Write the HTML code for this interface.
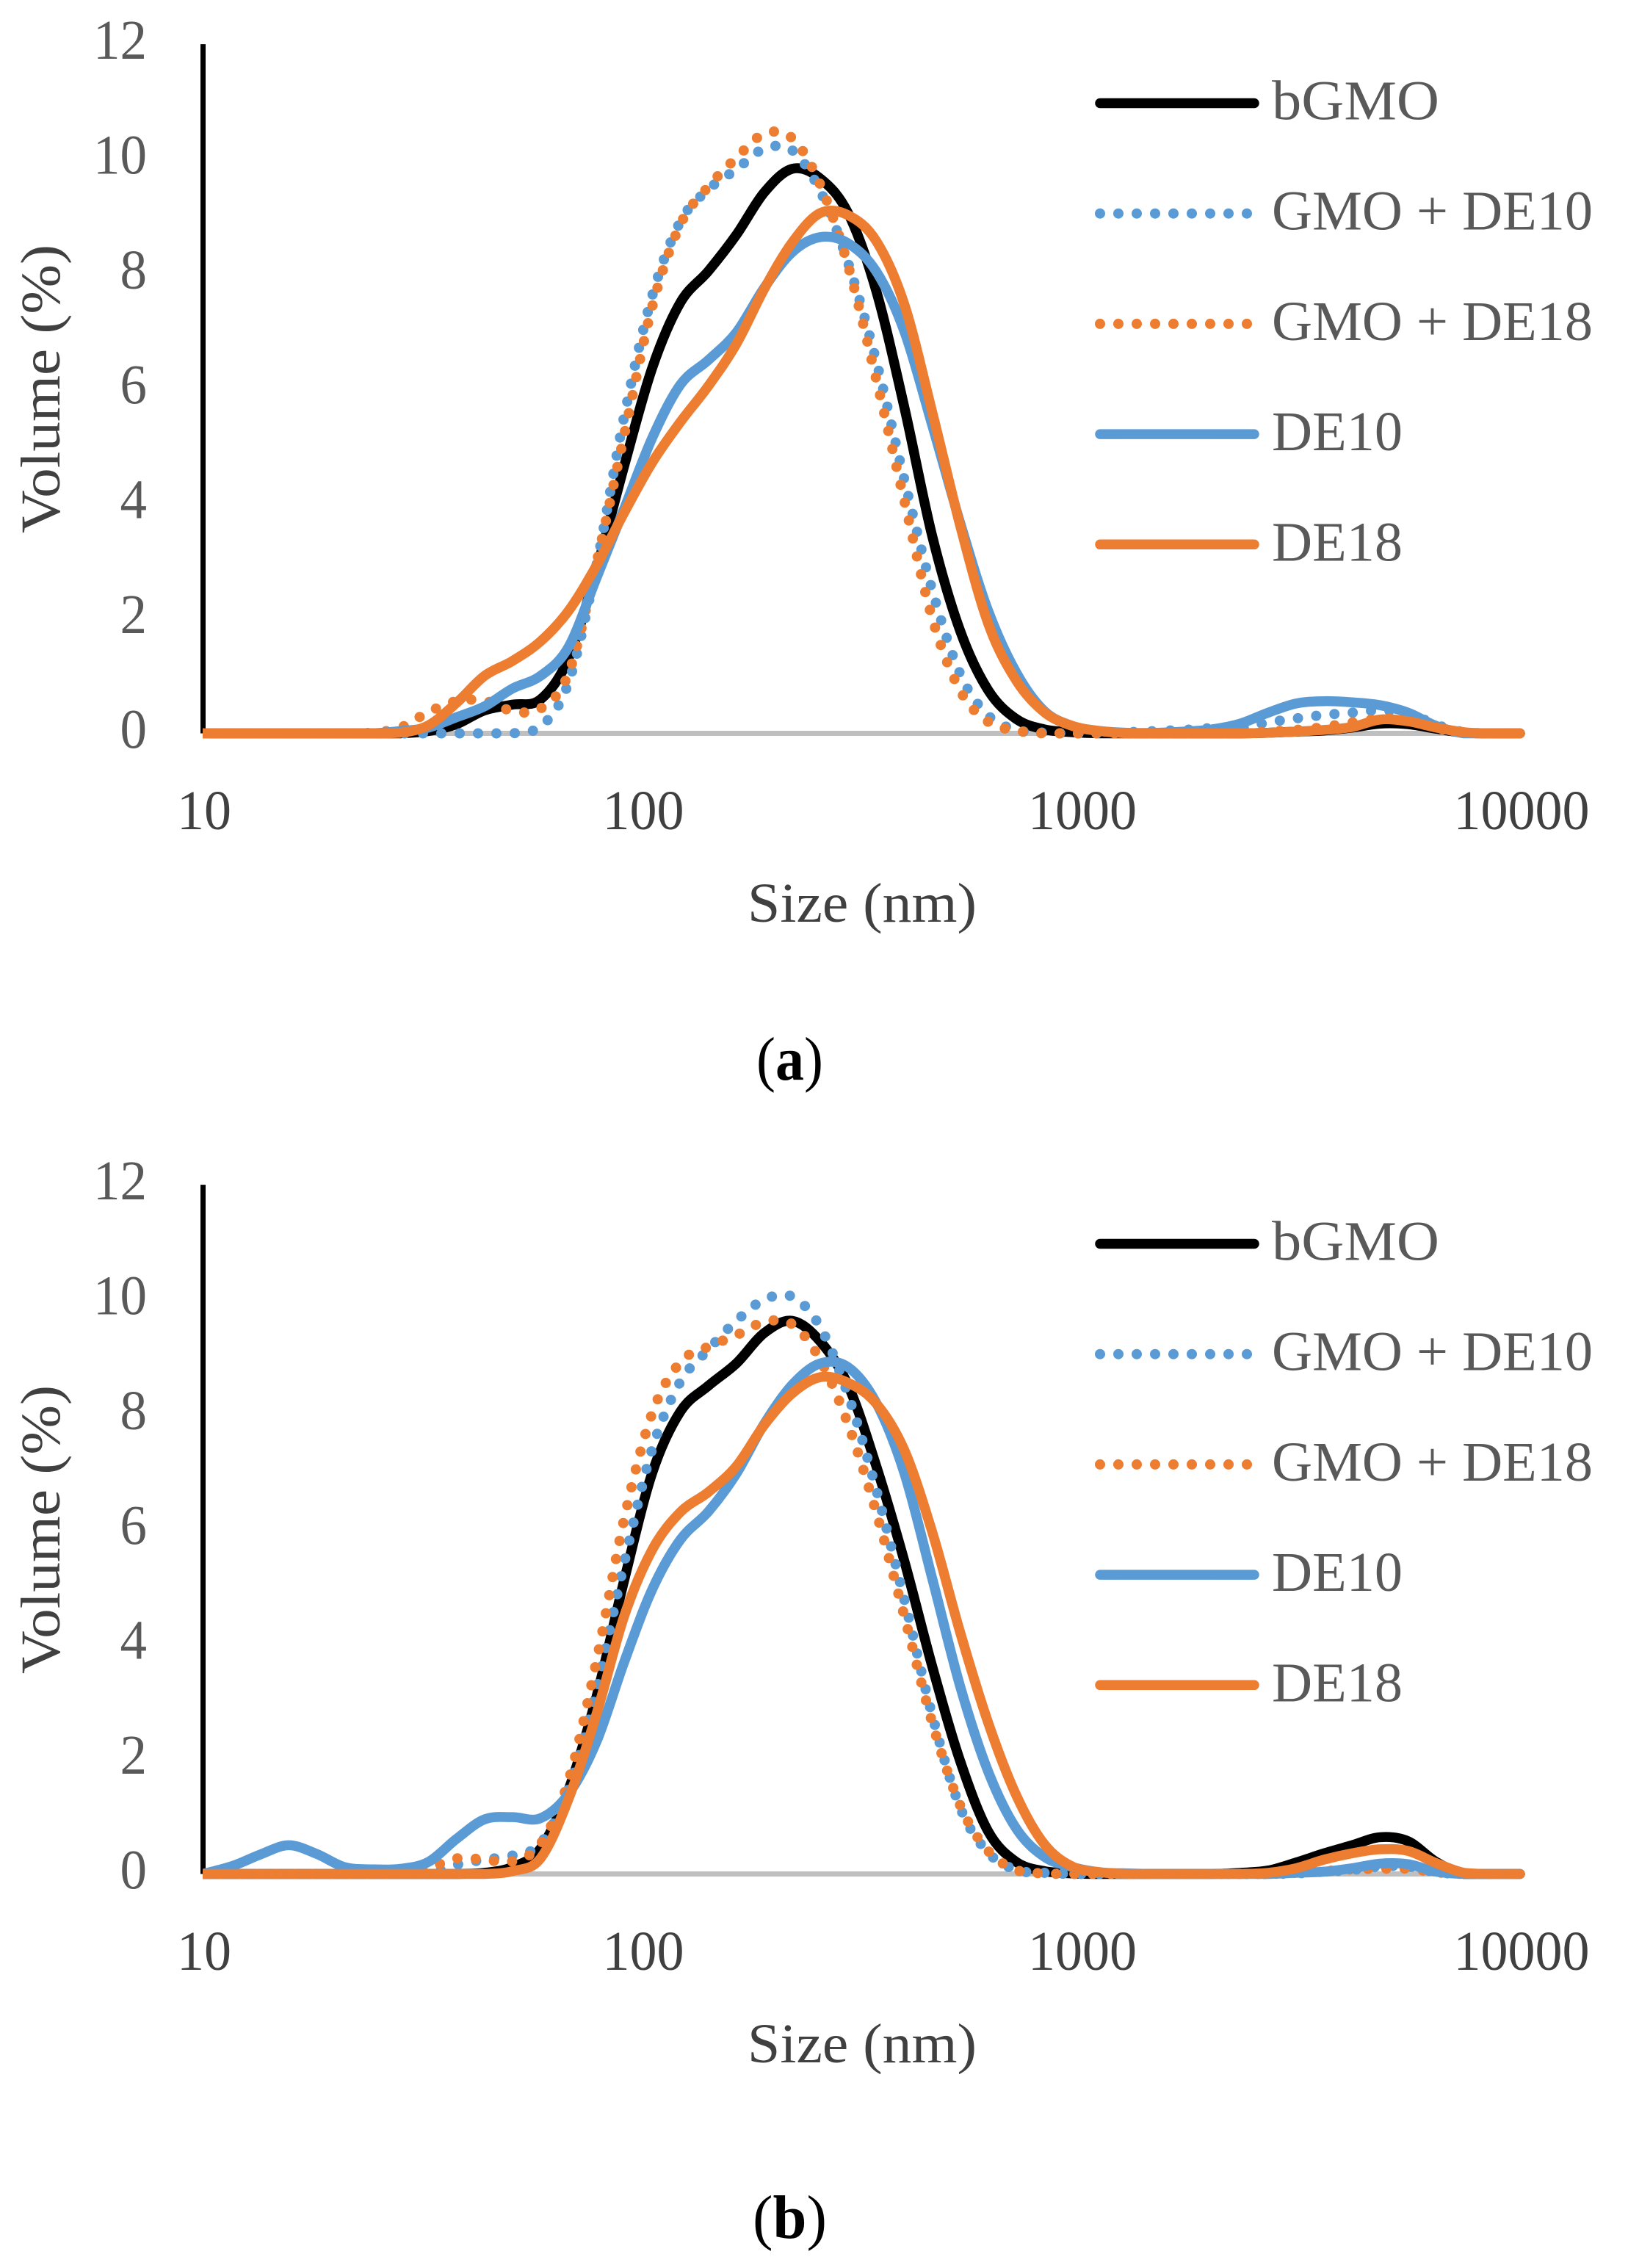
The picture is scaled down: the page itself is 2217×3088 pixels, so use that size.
<!DOCTYPE html>
<html lang="en">
<head>
<meta charset="utf-8">
<title>Particle size distributions</title>
<style>
  html, body { margin: 0; padding: 0; background: #fff; }
  svg { display: block; }
  text { font-family: "Liberation Serif", serif; }
</style>
</head>
<body>
<svg id="figure" xmlns="http://www.w3.org/2000/svg" width="2217" height="3088" viewBox="0 0 2217 3088">
  <rect x="0" y="0" width="2217" height="3088" fill="#ffffff"/>
</svg>
<script>
const sizes = [10,11.7,13.54,15.69,18.17,21.04,24.36,28.21,32.67,37.84,43.82,50.75,58.77,68.06,78.82,91.28,105.7,122.4,141.8,164.2,190.1,220.2,255,295.3,342,396.1,458.7,531.2,615.1,712.4,825,955.4,1106,1281,1484,1718,1990,2305,2669,3091,3580,4145,4801,5560,6439,7456,8635,10000];
const yTickLabels = [0,2,4,6,8,10,12];
const xTickLabels = [10,100,1000,10000];
const legendNames = ["bGMO","GMO + DE10","GMO + DE18","DE10","DE18"];

const aBgmo = [0,0,0,0,0,0,0,0,.04,.16,.4,.5,.59,1.3,2.85,4.67,6.37,7.5,8.05,8.68,9.42,9.83,9.66,9.05,7.7,5.68,3.43,1.78,.75,.25,.07,.02,0,0,0,0,0,0,.01,.03,.05,.1,.17,.16,.08,.01,0,0];
const aGmoDe10 = [0,0,0,0,0,0,0,0,0,0,0,0,.11,.88,2.92,5.54,7.63,8.91,9.47,9.82,10.18,10.15,9.44,8.18,6.48,4.42,2.49,1.03,.31,.06,.01,0,0,.02,.04,.06,.09,.1,.19,.26,.32,.36,.4,.35,.15,.02,0,0];
const aGmoDe18 = [0,0,0,0,0,0,.01,.1,.37,.56,.57,.39,.43,1.04,2.96,5.21,7.44,8.86,9.52,10.02,10.44,10.36,9.55,8.13,6.16,4.05,2,.74,.2,.05,0,0,0,0,0,0,0,0,.03,.06,.11,.19,.25,.23,.09,.01,0,0];
const aDe10 = [0,0,0,0,0,0,0,.04,.1,.28,.47,.78,1,1.5,2.7,3.92,5.15,6.07,6.5,6.98,7.76,8.38,8.64,8.53,8.04,7,5.36,3.66,2.13,1.06,.39,.13,.04,.01,.01,.03,.07,.17,.36,.52,.56,.54,.49,.36,.13,0,0,0];
const aDe18 = [0,0,0,0,0,0,0,.01,.14,.53,1,1.26,1.6,2.13,2.92,3.85,4.72,5.42,6.05,6.78,7.74,8.55,9.06,9.02,8.57,7.47,5.59,3.61,1.91,.92,.37,.13,.04,0,0,0,0,0,.01,.03,.06,.11,.24,.21,.1,.02,0,0];

const bBgmo = [0,0,0,0,0,0,0,0,0,0,.02,.12,.44,1.46,3.08,5.13,6.99,8.05,8.5,8.89,9.42,9.63,9.27,8.5,7.1,5.45,3.61,1.96,.74,.21,.05,.01,0,0,0,0,0,.02,.06,.2,.36,.5,.64,.57,.21,0,0,0];
const bGmoDe10 = [0,0,0,0,0,0,0,0,0,.16,.25,.32,.53,1.48,3.2,5.43,7.41,8.57,9.13,9.63,10,10.05,9.52,8.33,6.69,4.78,2.76,1.15,.37,.07,.02,0,0,0,0,0,0,0,0,.01,.04,.07,.13,.13,.03,0,0,0];
const bGmoDe18 = [0,0,0,0,0,0,0,0,.1,.27,.25,.22,.52,1.62,3.7,6.2,8.03,8.91,9.18,9.38,9.61,9.57,8.95,7.82,6.29,4.49,2.63,1.19,.4,.07,.01,0,0,0,0,0,0,0,0,.02,.05,.08,.09,.09,.03,0,0,0];
const bDe10 = [0,.14,.34,.5,.35,.12,.08,.09,.21,.61,.95,.99,.97,1.39,2.3,3.7,4.96,5.82,6.31,6.97,7.84,8.52,8.89,8.82,8.2,6.98,5.14,3.26,1.78,.79,.3,.12,.03,.01,0,0,0,0,0,.02,.04,.1,.18,.17,.04,0,0,0];
const bDe18 = [0,0,0,0,0,0,0,0,0,0,0,.05,.27,1.3,2.78,4.5,5.65,6.3,6.65,7.1,7.82,8.37,8.65,8.55,8.19,7.38,5.95,4.2,2.63,1.37,.52,.13,.03,0,0,0,0,0,.02,.1,.25,.36,.43,.4,.19,.02,0,0];

const NS = "http://www.w3.org/2000/svg";
const figure = document.getElementById("figure");
const X0 = 276, DECADE = 598;
const YUNIT = 78.2;
const BLACK = "#000000", BLUE = "#5B9BD5", ORANGE = "#ED7D31";

function xScale(size) { return X0 + DECADE * Math.log10(size / 10); }

function smoothPath(xs, ys, floorY) {
  let d = "M" + xs[0].toFixed(2) + " " + ys[0].toFixed(2);
  for (let i = 0; i < xs.length - 1; i++) {
    const a = Math.max(i - 1, 0), b = Math.min(i + 2, xs.length - 1);
    const c1x = xs[i] + (xs[i + 1] - xs[a]) / 6;
    const c1y = Math.min(ys[i] + (ys[i + 1] - ys[a]) / 6, floorY);
    const c2x = xs[i + 1] - (xs[b] - xs[i]) / 6;
    const c2y = Math.min(ys[i + 1] - (ys[b] - ys[i]) / 6, floorY);
    d += "C" + c1x.toFixed(2) + " " + c1y.toFixed(2) + " " + c2x.toFixed(2) + " " + c2y.toFixed(2) + " " + xs[i + 1].toFixed(2) + " " + ys[i + 1].toFixed(2);
  }
  return d;
}

function makeText(parent, str, x, y, size, fill, anchor, length) {
  const t = document.createElementNS(NS, "text");
  t.setAttribute("x", x);
  t.setAttribute("y", y);
  t.setAttribute("font-size", size);
  t.setAttribute("fill", fill);
  t.setAttribute("text-anchor", anchor);
  if (length) {
    t.setAttribute("textLength", length);
    t.setAttribute("lengthAdjust", "spacingAndGlyphs");
  }
  t.textContent = str;
  parent.appendChild(t);
  return t;
}

function slug(name) { return name.toLowerCase().replace(/[^a-z0-9]+/g, "-"); }

function drawChart(id, baseY, series, clipId) {
  const yScale = function (v) { return baseY - v * YUNIT; };
  const g = document.createElementNS(NS, "g");
  
  
  figure.appendChild(g);

  const defs = document.createElementNS(NS, "defs");
  const clip = document.createElementNS(NS, "clipPath");
  clip.setAttribute("id", clipId);
  const clipRect = document.createElementNS(NS, "rect");
  clipRect.setAttribute("x", X0);
  clipRect.setAttribute("y", yScale(12) - 40);
  clipRect.setAttribute("width", 2217 - X0);
  clipRect.setAttribute("height", 12 * YUNIT + 80);
  clip.appendChild(clipRect);
  defs.appendChild(clip);
  g.appendChild(defs);

  // horizontal axis line
  const xAxis = document.createElementNS(NS, "line");
  
  
  xAxis.setAttribute("x1", xScale(10));
  xAxis.setAttribute("x2", xScale(10000));
  xAxis.setAttribute("y1", yScale(0));
  xAxis.setAttribute("y2", yScale(0));
  xAxis.setAttribute("stroke", "#BFBFBF");
  xAxis.setAttribute("stroke-width", 7);
  g.appendChild(xAxis);

  // vertical axis line
  const yAxis = document.createElementNS(NS, "line");
  
  
  yAxis.setAttribute("x1", X0 + 0.5);
  yAxis.setAttribute("x2", X0 + 0.5);
  yAxis.setAttribute("y1", yScale(12));
  yAxis.setAttribute("y2", yScale(0));
  yAxis.setAttribute("stroke", "#000000");
  yAxis.setAttribute("stroke-width", 7);
  g.appendChild(yAxis);

  // y tick labels
  yTickLabels.forEach(function (v) {
    const label = String(v);
    const t = makeText(g, label, 200, yScale(v) + 20, 76, "#595959", "end", label.length * 36.5);
    
    
  });

  // x tick labels
  xTickLabels.forEach(function (v) {
    const label = String(v);
    const t = makeText(g, label, xScale(v) + 2, baseY + 130.5, 76, "#404040", "middle", label.length * 37);
    
    
  });

  // axis titles
  const xTitle = makeText(g, "Size (nm)", 1018, baseY + 256.5, 76, "#404040", "start", 312);
  
  

  const yTitle = makeText(g, "Volume (%)", 0, 0, 76, "#404040", "start", 393);
  yTitle.setAttribute("transform", "translate(81 " + (baseY - 272.5) + ") rotate(-90)");
  
  

  // series
  const xs = sizes.map(xScale);
  series.forEach(function (s) {
    const p = document.createElementNS(NS, "path");
    
    
    p.setAttribute("d", smoothPath(xs, s.values.map(yScale), baseY));
    p.setAttribute("fill", "none");
    p.setAttribute("stroke", s.color);
    p.setAttribute("stroke-width", s.dotted ? 14 : 13.5);
    p.setAttribute("stroke-linecap", "round");
    p.setAttribute("stroke-linejoin", "round");
    if (s.dotted) p.setAttribute("stroke-dasharray", "0 25");
    p.setAttribute("clip-path", "url(#" + clipId + ")");
    g.appendChild(p);
  });

  // legend
  const legendTop = baseY - 858;
  const widths = [228, 437, 437, 178, 178];
  series.forEach(function (s, i) {
    const rowY = legendTop + i * 150.2;
    const entry = document.createElementNS(NS, "g");
    
    
    g.appendChild(entry);

    const key = document.createElementNS(NS, "line");
    
    
    key.setAttribute("x1", 1498);
    key.setAttribute("x2", 1708);
    key.setAttribute("y1", rowY);
    key.setAttribute("y2", rowY);
    key.setAttribute("stroke", s.color);
    key.setAttribute("stroke-width", s.dotted ? 14 : 13.5);
    key.setAttribute("stroke-linecap", "round");
    if (s.dotted) key.setAttribute("stroke-dasharray", "0 25");
    entry.appendChild(key);

    const label = makeText(entry, s.name, 1732, rowY + 22, 76, "#595959", "start", widths[i]);
    
    
  });
}

function seriesSet(v1, v2, v3, v4, v5) {
  return [
    { name: legendNames[0], values: v1, color: BLACK, dotted: false },
    { name: legendNames[1], values: v2, color: BLUE, dotted: true },
    { name: legendNames[2], values: v3, color: ORANGE, dotted: true },
    { name: legendNames[3], values: v4, color: BLUE, dotted: false },
    { name: legendNames[4], values: v5, color: ORANGE, dotted: false }
  ];
}

drawChart("a", 998.5, seriesSet(aBgmo, aGmoDe10, aGmoDe18, aDe10, aDe18), "clip-a");
drawChart("b", 2551.5, seriesSet(bBgmo, bGmoDe10, bGmoDe18, bDe10, bDe18), "clip-b");

function caption(letter, x, y, length) {
  const t = document.createElementNS(NS, "text");
  t.setAttribute("x", x);
  t.setAttribute("y", y);
  t.setAttribute("font-size", 84);
  t.setAttribute("fill", "#000000");
  t.setAttribute("textLength", length);
  t.setAttribute("lengthAdjust", "spacingAndGlyphs");
  
  
  t.appendChild(document.createTextNode("("));
  const b = document.createElementNS(NS, "tspan");
  b.setAttribute("font-weight", "bold");
  b.textContent = letter;
  t.appendChild(b);
  t.appendChild(document.createTextNode(")"));
  figure.appendChild(t);
}
caption("a", 1030, 1470, 91);
caption("b", 1025, 3047, 101);
</script>
</body>
</html>
